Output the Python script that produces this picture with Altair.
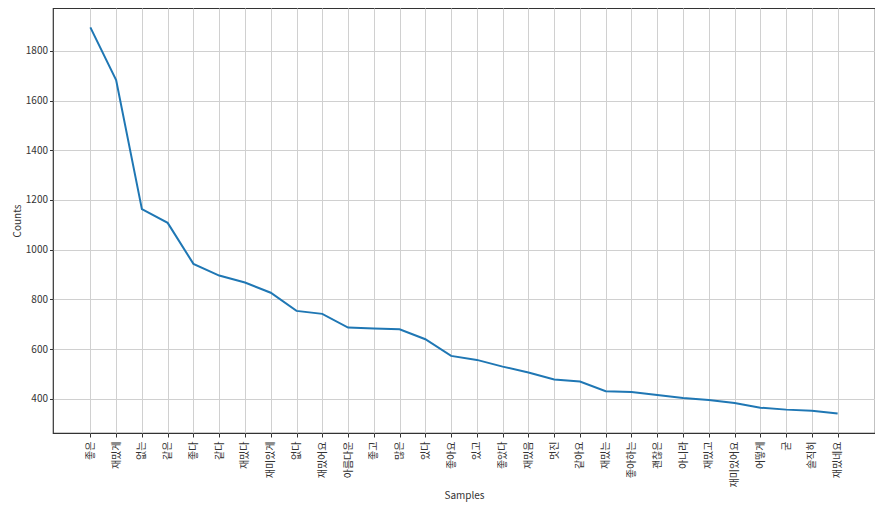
import altair as alt
import pandas as pd

words = ["좋은", "재밌게", "없는", "같은", "좋다", "같다", "재밌다", "재미있게", "없다", "재밌어요",
         "아름다운", "좋고", "많은", "있다", "좋아요", "있고", "좋았다", "재밌음", "멋진", "같아요",
         "재밌는", "좋아하는", "괜찮은", "아니라", "재밌고", "재미있어요", "어떻게", "굳", "솔직히", "재밌네요"]
counts = [1894, 1682, 1163, 1108, 943, 896, 868, 827, 754, 742,
          687, 683, 680, 640, 573, 557, 530, 506, 478, 470,
          431, 428, 416, 404, 396, 384, 365, 357, 352, 341]

df = pd.DataFrame({"idx": list(range(len(words))), "Samples": words, "Counts": counts})

font = "Noto Sans CJK KR"
label_expr = "[" + ",".join('"%s"' % w for w in words) + "][datum.value]"

chart = alt.Chart(df).mark_line(color="#1f77b4", strokeWidth=2).encode(
    x=alt.X("idx:Q",
            scale=alt.Scale(domain=[-1.45, 30.45], nice=False, zero=False),
            axis=alt.Axis(title="Samples", values=list(range(len(words))), labelExpr=label_expr,
                          labelAngle=270, labelAlign="right", labelBaseline="middle",
                          labelFont=font, labelFontSize=10, labelColor="#333333", labelFlush=False,
                          labelOverlap=False, labelBound=False,
                          titleFont=font, titleFontSize=10, titleFontWeight="normal", titleColor="#333333",
                          titlePadding=3, grid=True, gridColor="#d0d0d0", gridWidth=1,
                          tickColor="#333333", tickSize=4, domain=False, labelPadding=4)),
    y=alt.Y("Counts:Q", scale=alt.Scale(domain=[263, 1972], nice=False, zero=False),
            axis=alt.Axis(title="Counts", values=[400, 600, 800, 1000, 1200, 1400, 1600, 1800],
                          format="d",
                          labelFont=font, labelFontSize=10, labelColor="#333333",
                          titleFont=font, titleFontSize=10, titleFontWeight="normal", titleColor="#333333",
                          titlePadding=3, grid=True, gridColor="#d0d0d0", gridWidth=1,
                          tickColor="#333333", tickSize=3.5, domain=False, labelPadding=2)),
).properties(
    width=822, height=425,
    autosize=alt.AutoSizeParams(type="none"),
    padding={"left": 45, "top": 0, "right": 0, "bottom": 69},
).configure(background="white").configure_view(stroke="#333333", strokeWidth=1.2)

chart.save("out.html", embed_options={"renderer": "svg", "actions": False})
